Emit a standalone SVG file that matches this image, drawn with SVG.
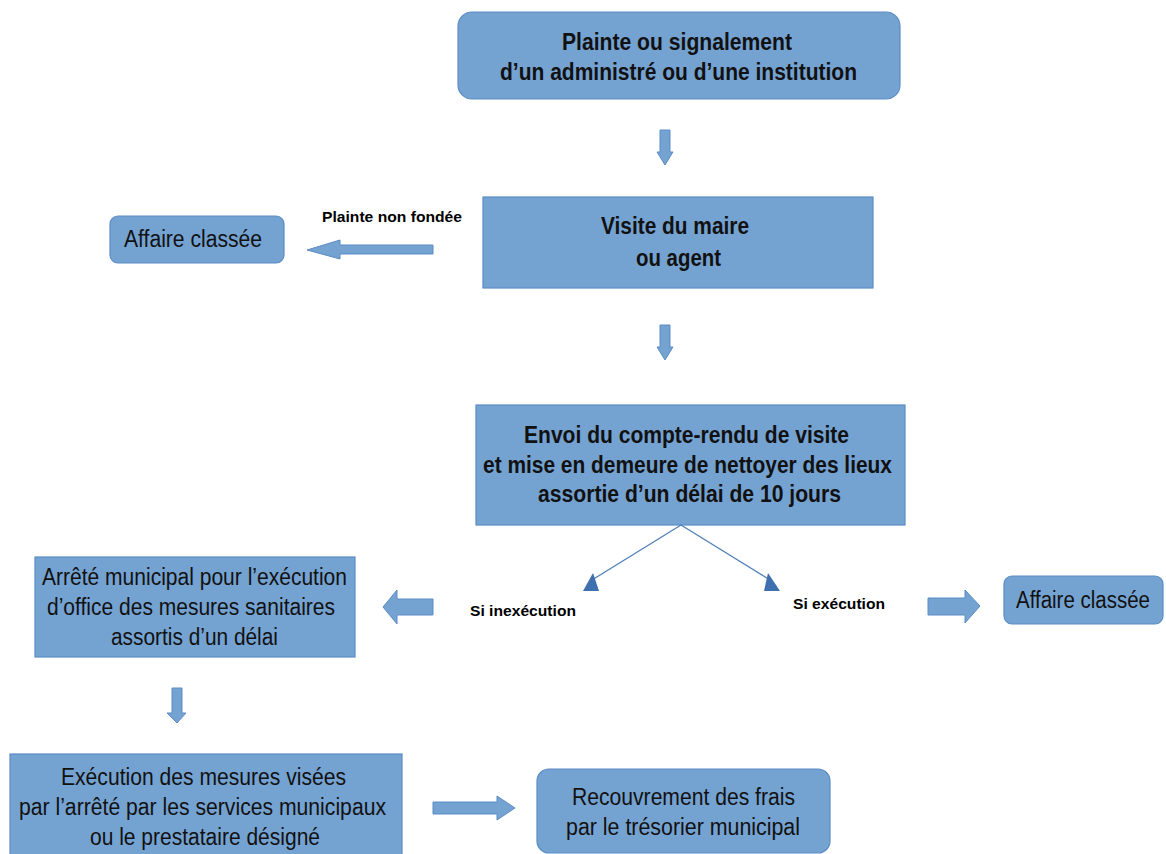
<svg xmlns="http://www.w3.org/2000/svg" width="1166" height="854" viewBox="0 0 1166 854">
<style>
.box{fill:#75a3d1;stroke:#5b8cc5;stroke-width:1.2}
.t{font-family:"Liberation Sans Narrow","Liberation Sans",sans-serif;font-size:23px;fill:#111;text-anchor:middle}
.b{font-weight:bold}
.lbl{font-family:"Liberation Sans Narrow","Liberation Sans",sans-serif;font-size:15px;font-weight:bold;fill:#000}
.arr{fill:#75a3d1;stroke:#5b8cc5;stroke-width:1}
.ln{stroke:#4f7fb8;stroke-width:1.3;fill:none}
.tri{fill:#3e6fae}
</style>
<rect width="1166" height="854" fill="#fff"/>
<g id="n1"><rect class="box" x="458" y="12" width="442" height="87" rx="14"/>
<text class="t b" x="677" y="50" textLength="230" lengthAdjust="spacingAndGlyphs">Plainte ou signalement</text>
<text class="t b" x="678.5" y="80" textLength="357" lengthAdjust="spacingAndGlyphs">d’un administré ou d’une institution</text></g>
<g id="n2"><rect class="box" x="483" y="197" width="390" height="91"/>
<text class="t b" x="675" y="234" textLength="148" lengthAdjust="spacingAndGlyphs">Visite du maire</text>
<text class="t b" x="678.5" y="266" textLength="85" lengthAdjust="spacingAndGlyphs">ou agent</text></g>
<g id="n3"><rect class="box" x="110" y="216" width="174" height="47" rx="8"/>
<text class="t" x="193" y="247" textLength="138" lengthAdjust="spacingAndGlyphs">Affaire classée</text></g>
<g id="n4"><rect class="box" x="476" y="405" width="429" height="120"/>
<text class="t b" x="686.5" y="443" textLength="325" lengthAdjust="spacingAndGlyphs">Envoi du compte-rendu de visite</text>
<text class="t b" x="687.5" y="473" textLength="409" lengthAdjust="spacingAndGlyphs">et mise en demeure de nettoyer des lieux</text>
<text class="t b" x="689.5" y="502" textLength="303" lengthAdjust="spacingAndGlyphs">assortie d’un délai de 10 jours</text></g>
<g id="n5"><rect class="box" x="35" y="557" width="320" height="100"/>
<text class="t" x="194.5" y="585" textLength="305" lengthAdjust="spacingAndGlyphs">Arrêté municipal pour l’exécution</text>
<text class="t" x="191" y="615" textLength="288" lengthAdjust="spacingAndGlyphs">d’office des mesures sanitaires</text>
<text class="t" x="194.5" y="645" textLength="167" lengthAdjust="spacingAndGlyphs">assortis d’un délai</text></g>
<g id="n6"><rect class="box" x="1004" y="576" width="159" height="48" rx="8"/>
<text class="t" x="1083" y="608" font-size="21" textLength="134" lengthAdjust="spacingAndGlyphs">Affaire classée</text></g>
<g id="n7"><rect class="box" x="10" y="754" width="392" height="110"/>
<text class="t" x="203.5" y="785" textLength="285" lengthAdjust="spacingAndGlyphs">Exécution des mesures visées</text>
<text class="t" x="202.5" y="815" textLength="367" lengthAdjust="spacingAndGlyphs">par l’arrêté par les services municipaux</text>
<text class="t" x="205" y="845" textLength="230" lengthAdjust="spacingAndGlyphs">ou le prestataire désigné</text></g>
<g id="n8"><rect class="box" x="537" y="769" width="293" height="84" rx="12"/>
<text class="t" x="683.5" y="805" textLength="223" lengthAdjust="spacingAndGlyphs">Recouvrement des frais</text>
<text class="t" x="683" y="835" textLength="234" lengthAdjust="spacingAndGlyphs">par le trésorier municipal</text></g>
<g id="connectors">
<polygon class="arr" points="660,130 670,130 670,152 673,152 665,165 657,152 660,152"/>
<polygon class="arr" points="660,325 670,325 670,347 673,347 665,360 657,347 660,347"/>
<polygon class="arr" points="433,245 433,254 340,254 340,259 307,250 340,240 340,245"/>
<polygon class="arr" points="433,599 433,615 397,615 397,624 383,607 397,590 397,599"/>
<polygon class="arr" points="928,598 965,598 965,590 980,606 965,623 965,615 928,615"/>
<polygon class="arr" points="172,688 182,688 182,713 186,713 177,723 167,713 172,713"/>
<polygon class="arr" points="433,802 497,802 497,796 515,808 497,820 497,814 433,814"/>
<line class="ln" x1="681" y1="525" x2="592" y2="580"/>
<line class="ln" x1="681" y1="525" x2="770" y2="580"/>
<polygon class="tri" points="583,591 599,591 593,573"/>
<polygon class="tri" points="764,591 780,591 768,573"/>
</g>
<text class="lbl" x="322" y="222" textLength="140" lengthAdjust="spacingAndGlyphs">Plainte non fondée</text>
<text class="lbl" x="470" y="616" textLength="106" lengthAdjust="spacingAndGlyphs">Si inexécution</text>
<text class="lbl" x="793" y="609" textLength="92" lengthAdjust="spacingAndGlyphs">Si exécution</text>
</svg>
